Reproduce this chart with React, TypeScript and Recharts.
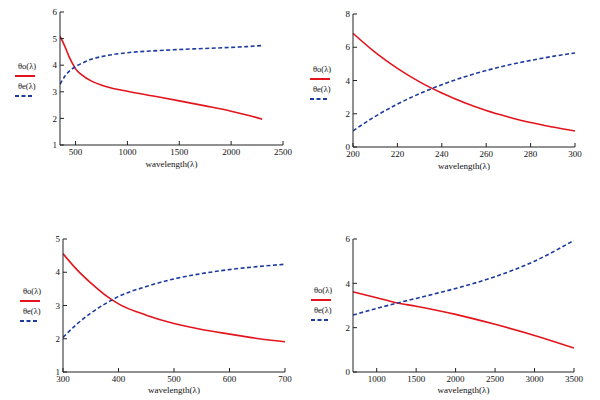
import React from 'react';
import { LineChart, Line, XAxis, YAxis, Legend } from 'recharts';

// panel 1 (top left)
const wl1 = [350, 400, 435, 470, 500, 560, 650, 800, 1000, 1250, 1500, 1750, 2000, 2150, 2300];
const o1 = [5.09, 4.68, 4.34, 4.07, 3.86, 3.64, 3.41, 3.19, 3.02, 2.84, 2.66, 2.47, 2.27, 2.13, 1.97];
const e1 = [3.28, 3.6, 3.76, 3.87, 3.95, 4.07, 4.22, 4.36, 4.47, 4.54, 4.59, 4.63, 4.67, 4.7, 4.74];
const xt1 = [500, 1000, 1500, 2000, 2500];
const yt1 = [1, 2, 3, 4, 5, 6];

// panel 2 (top right)
const wl2 = [200, 210, 220, 230, 240, 250, 260, 270, 280, 290, 300];
const o2 = [6.84, 5.69, 4.73, 3.92, 3.25, 2.68, 2.2, 1.81, 1.47, 1.2, 0.96];
const e2 = [0.97, 1.84, 2.58, 3.21, 3.75, 4.21, 4.6, 4.93, 5.21, 5.45, 5.66];
const xt2 = [200, 220, 240, 260, 280, 300];
const yt2 = [0, 2, 4, 6, 8];

// panel 3 (bottom left)
const wl3 = [300, 325, 350, 375, 400, 450, 500, 550, 600, 650, 700];
const o3 = [4.56, 4.08, 3.68, 3.33, 3.05, 2.71, 2.46, 2.28, 2.14, 2.01, 1.91];
const e3 = [2.04, 2.44, 2.77, 3.04, 3.27, 3.57, 3.8, 3.96, 4.08, 4.17, 4.24];
const xt3 = [300, 400, 500, 600, 700];
const yt3 = [1, 2, 3, 4, 5];

// panel 4 (bottom right)
const wl4 = [700, 1000, 1250, 1500, 2000, 2500, 3000, 3500];
const o4 = [3.62, 3.35, 3.12, 2.97, 2.6, 2.15, 1.65, 1.08];
const e4 = [2.57, 2.87, 3.1, 3.32, 3.77, 4.3, 5.0, 5.94];
const xt4 = [1000, 1500, 2000, 2500, 3000, 3500];
const yt4 = [0, 2, 4, 6];

const RED = '#e3141c';
const BLUE = '#1d3b9f';
const FRAME = '#222';
const SERIF = '"Liberation Serif", "DejaVu Serif", serif';

const tickStyle = { fontSize: 9, fill: '#111', fontFamily: SERIF };
const order = ['o', 'e'];

const LegendBox = ({ payload }: any) => {
  const items = [...(payload || [])].sort(
    (a: any, b: any) => order.indexOf(a.dataKey) - order.indexOf(b.dataKey)
  );
  return (
    <div style={{ fontFamily: SERIF, fontSize: 8.5 }}>
      {items.map((p: any) => {
        const dashed = p.dataKey === 'e';
        return (
          <div key={p.value} style={{ height: 20 }}>
            <div style={{ height: 10, lineHeight: '10px', paddingLeft: 3, color: '#111' }}>
              {p.value}
            </div>
            <svg width={22} height={10} style={{ display: 'block' }}>
              <line
                x1={0}
                x2={dashed ? 17 : 20}
                y1={5}
                y2={5}
                stroke={p.color}
                strokeWidth={2}
                strokeDasharray={dashed ? '4 2.5' : undefined}
              />
            </svg>
          </div>
        );
      })}
    </div>
  );
};

interface PanelProps {
  wl: number[];
  o: number[];
  e: number[];
  xTicks: number[];
  yTicks: number[];
  xDomain: [number, number];
  left: number;
  top: number;
  height: number;
  margin: { top: number; right: number; bottom: number; left: number };
  xHeight: number;
  legendPos: { left: number; top: number };
}

const Panel: React.FC<PanelProps> = ({
  wl, o, e, xTicks, yTicks, xDomain, left, top, height, margin, xHeight, legendPos
}) => {
  const data = wl.map((w, i) => ({ wl: w, o: o[i], e: e[i] }));
  const yDomain: [number, number] = [yTicks[0], yTicks[yTicks.length - 1]];
  const blank = () => '';
  return (
    <div style={{ position: 'absolute', left, top }}>
      <LineChart width={300} height={height} data={data} margin={margin}>
        <XAxis
          type="number"
          dataKey="wl"
          domain={xDomain}
          ticks={xTicks}
          allowDataOverflow
          tickSize={-4}
          tickMargin={8}
          height={xHeight}
          stroke={FRAME}
          tick={tickStyle}
          label={{
            value: 'wavelength(λ)',
            position: 'insideBottom',
            offset: 3,
            style: { fontSize: 9, fill: '#111', fontFamily: SERIF }
          }}
        />
        <XAxis
          xAxisId="top"
          orientation="top"
          type="number"
          dataKey="wl"
          domain={xDomain}
          ticks={xTicks}
          allowDataOverflow
          tickSize={-4}
          height={0}
          stroke={FRAME}
          tickFormatter={blank}
        />
        <YAxis
          type="number"
          domain={yDomain}
          ticks={yTicks}
          allowDataOverflow
          tickSize={-4}
          tickMargin={7}
          width={15}
          stroke={FRAME}
          tick={tickStyle}
        />
        <YAxis
          yAxisId="right"
          orientation="right"
          type="number"
          domain={yDomain}
          ticks={yTicks}
          allowDataOverflow
          tickSize={-4}
          width={0}
          stroke={FRAME}
          tickFormatter={blank}
        />
        <Legend
          layout="horizontal"
          verticalAlign="middle"
          align="center"
          content={LegendBox}
          wrapperStyle={{ left: legendPos.left, top: legendPos.top, width: 30 }}
        />
        <Line
          type="monotone"
          dataKey="o"
          name="θo(λ)"
          stroke={RED}
          strokeWidth={1.6}
          dot={false}
          isAnimationActive={false}
        />
        <Line
          type="monotone"
          dataKey="e"
          name="θe(λ)"
          stroke={BLUE}
          strokeWidth={1.6}
          strokeDasharray="4 2.5"
          dot={false}
          isAnimationActive={false}
        />
      </LineChart>
    </div>
  );
};

export default function App() {
  return (
    <div
      style={{
        position: 'fixed',
        left: 0,
        top: 0,
        width: 600,
        height: 400,
        overflow: 'hidden',
        background: '#fff'
      }}
    >
      <Panel
        wl={wl1} o={o1} e={e1} xTicks={xt1} yTicks={yt1} xDomain={[350, 2500]}
        left={0} top={0} height={185}
        margin={{ top: 12, right: 17, bottom: 15, left: 45 }} xHeight={25}
        legendPos={{ left: 15, top: 61 }}
      />
      <Panel
        wl={wl2} o={o2} e={e2} xTicks={xt2} yTicks={yt2} xDomain={[200, 300]}
        left={300} top={0} height={185}
        margin={{ top: 14, right: 25, bottom: 13, left: 38 }} xHeight={25}
        legendPos={{ left: 10, top: 64 }}
      />
      <Panel
        wl={wl3} o={o3} e={e3} xTicks={xt3} yTicks={yt3} xDomain={[300, 700]}
        left={0} top={220} height={180}
        margin={{ top: 19, right: 15, bottom: 4, left: 48 }} xHeight={24}
        legendPos={{ left: 20, top: 66 }}
      />
      <Panel
        wl={wl4} o={o4} e={e4} xTicks={xt4} yTicks={yt4} xDomain={[700, 3500]}
        left={300} top={220} height={180}
        margin={{ top: 19, right: 26, bottom: 4, left: 38 }} xHeight={24}
        legendPos={{ left: 11, top: 65 }}
      />
    </div>
  );
}
